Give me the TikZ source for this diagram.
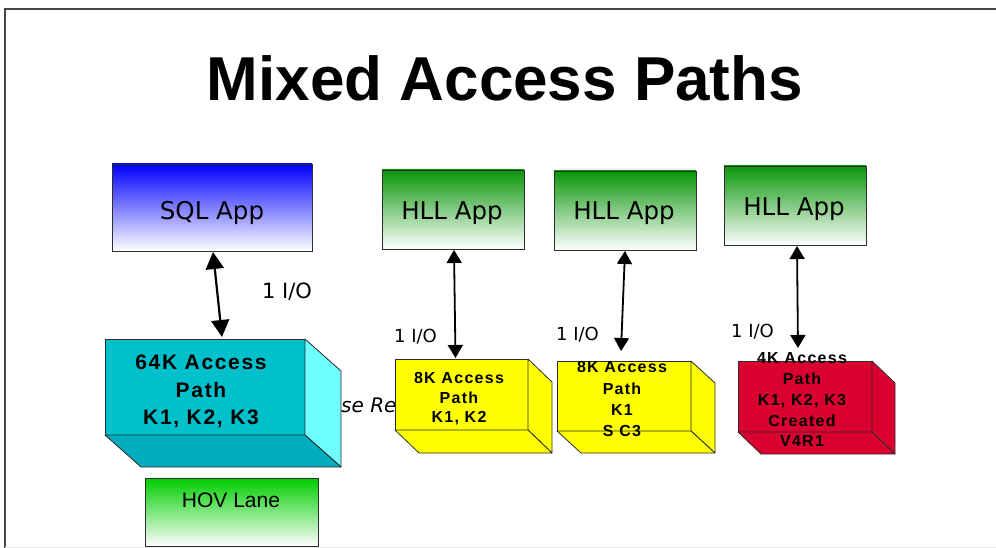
\documentclass[tikz,border=0pt]{standalone}
\usepackage{fontspec}
\setmainfont{Liberation Sans}
\newfontfamily\dvsans{DejaVu Sans}
\newfontfamily\cubefont{Liberation Sans}[LetterSpace=8]
\usetikzlibrary{arrows.meta}

\definecolor{sqlblue}{RGB}{0,0,255}
\definecolor{hllgreen}{RGB}{10,150,10}
\definecolor{hovgreen}{RGB}{0,205,0}
\definecolor{cyanfront}{RGB}{0,192,204}
\definecolor{cyanside}{RGB}{110,255,255}
\definecolor{cyanbottom}{RGB}{0,172,190}
\definecolor{cubeyellow}{RGB}{255,255,0}
\definecolor{cubered}{RGB}{218,0,48}
\definecolor{edgegray}{RGB}{45,45,45}
\definecolor{framegray}{RGB}{70,70,70}

% side and bottom faces of a box drawn behind a front-face node
% #1 node, #2 dx, #3 dy, #4 side fill, #5 bottom fill
\newcommand\cubesides[5]{%
  \filldraw[cubeedge, fill=#4] (#1.north east) -- ++(#2,#3)
    -- ([shift={(#2,#3)}]#1.south east) -- (#1.south east) -- cycle;
  \filldraw[cubeedge, fill=#5] (#1.south west) -- (#1.south east)
    -- ([shift={(#2,#3)}]#1.south east) -- ([shift={(#2,#3)}]#1.south west) -- cycle;
}

\begin{document}
\begin{tikzpicture}[x=1pt,y=-1pt,
  appbox/.style={draw=edgegray, line width=0.8pt, inner sep=0pt, outer sep=0pt, anchor=north west},
  front/.style={draw=edgegray, line width=0.8pt, inner sep=0pt, outer sep=0pt, anchor=north west},
  cubeedge/.style={draw=edgegray, line width=0.8pt, line join=round},
  apptext/.style={anchor=base, inner sep=0pt, font=\dvsans\fontsize{24.5}{28}\selectfont},
  cubetext/.style={anchor=north, inner sep=0pt, align=center},
  iolabel/.style={anchor=base west, inner sep=0pt, font=\dvsans\fontsize{18}{22}\selectfont},
  bigio/.style={line width=2.2pt, {Triangle[length=17pt,width=18pt]}-{Triangle[length=17pt,width=18pt]}},
  io/.style={line width=1.8pt, {Triangle[length=13pt,width=15pt]}-{Triangle[length=13pt,width=15pt]}}
]
\useasboundingbox (0,0) rectangle (996,548);

% page frame
\draw[framegray, line width=1.6pt] (996,9) -- (5,9) -- (5,548);
\draw[black!8, line width=0.8pt] (5,547) -- (996,547);

% title
\node[anchor=base, inner sep=0pt, font=\bfseries\fontsize{62}{70}\selectfont] (title) at (505,101) {Mixed Access Paths};

% application boxes
\node[appbox, minimum width=200pt, minimum height=87pt, top color=sqlblue, bottom color=white] (sql) at (112,164) {};
\node[apptext] (sqlt) at (212,220) {SQL App};

\node[appbox, minimum width=142pt, minimum height=79pt, top color=hllgreen, bottom color=white] (h1) at (382,170) {};
\node[apptext] (h1t) at (452,220) {HLL App};
\node[appbox, minimum width=142pt, minimum height=79pt, top color=hllgreen, bottom color=white] (h2) at (554,171) {};
\node[apptext] (h2t) at (624,220) {HLL App};
\node[appbox, minimum width=142pt, minimum height=79pt, top color=hllgreen, bottom color=white] (h3) at (724,166) {};
\node[apptext] (h3t) at (794,215) {HLL App};

% HOV lane box
\node[appbox, minimum width=173pt, minimum height=68pt, top color=hovgreen, bottom color=white] (hov) at (145,478) {};
\node[anchor=base, inner sep=0pt, font=\fontsize{21}{24}\selectfont] (hovt) at (231,507) {HOV Lane};

% text partly covered by the boxes
\node[anchor=base west, inner sep=0pt, font=\dvsans\itshape\fontsize{20}{24}\selectfont] (under) at (341,412) {se Re};

% access path boxes
\node[front, fill=cyanfront, minimum width=200pt, minimum height=96pt] (c1) at (105,339) {};
\cubesides{c1}{36}{32}{cyanside}{cyanbottom}
\node[front, fill=cubeyellow, minimum width=133pt, minimum height=71pt] (c2) at (395,359) {};
\cubesides{c2}{24}{23}{cubeyellow}{cubeyellow}
\node[front, fill=cubeyellow, minimum width=134pt, minimum height=70pt] (c3) at (557,361) {};
\cubesides{c3}{24}{22}{cubeyellow}{cubeyellow}
\node[front, fill=cubered, minimum width=134pt, minimum height=71pt] (c4) at (738,361) {};
\cubesides{c4}{23}{22}{cubered}{cubered}

\node[cubetext, font=\cubefont\bfseries\fontsize{21}{27.5}\selectfont] (c1t) at (201,355) {64K Access\\Path\\K1, K2, K3};
\node[cubetext, font=\cubefont\bfseries\fontsize{16}{19.5}\selectfont] (c2t) at (459,372.5) {8K Access\\Path\\K1, K2};
\node[cubetext, font=\cubefont\bfseries\fontsize{16}{21.3}\selectfont] (c3t) at (622,361.5) {8K Access\\Path\\K1\\S C3};
\node[cubetext, font=\cubefont\bfseries\fontsize{16}{20.8}\selectfont] (c4t) at (802,352.5) {4K Access\\Path\\K1, K2, K3\\Created\\V4R1};

% I/O connectors
\draw[bigio] ([shift={(1,1)}]sql.south) -- ([shift={(17,-2)}]c1.north);
\draw[io] ([shift={(1,1)}]h1.south) -- ([shift={(-6,-1)}]c2.north);
\draw[io] ([shift={(0,1)}]h2.south) -- ([shift={(-3,-10)}]c3.north);
\draw[io] ([shift={(2,1)}]h3.south) -- ([shift={(-7,-13)}]c4.north);

\node[iolabel, font=\dvsans\fontsize{21}{24}\selectfont] (io0) at (262,298) {1 I/O};
\node[iolabel] (io1) at (394,342) {1 I/O};
\node[iolabel] (io2) at (556,340) {1 I/O};
\node[iolabel] (io3) at (731,337) {1 I/O};
\end{tikzpicture}
\end{document}
